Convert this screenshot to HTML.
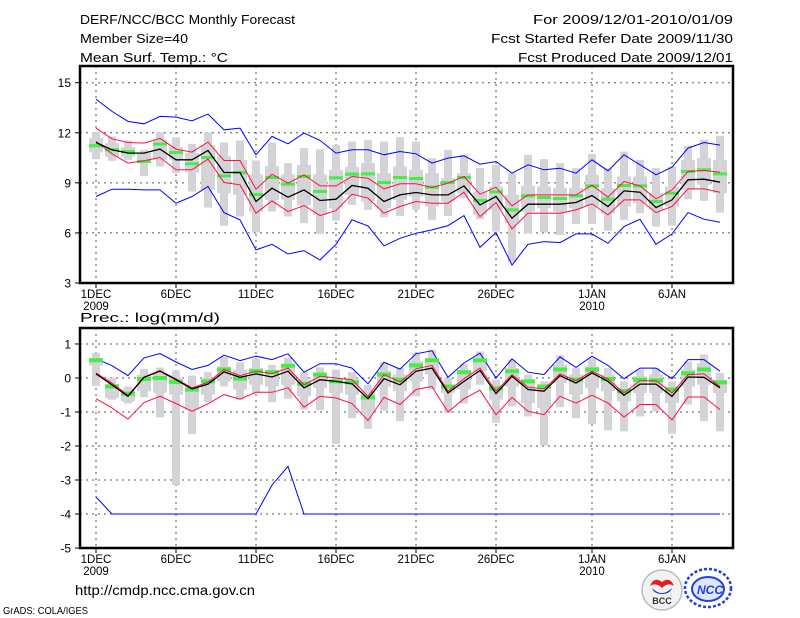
<!DOCTYPE html>
<html><head><meta charset="utf-8"><style>
html,body{margin:0;padding:0;background:#fff;}
svg{display:block;font-family:"Liberation Sans",sans-serif;}
</style></head><body>
<svg id="c" width="800" height="618" viewBox="0 0 800 618">
<g font-size="13" fill="#000">
<text x="80" y="24" textLength="215" lengthAdjust="spacingAndGlyphs">DERF/NCC/BCC Monthly Forecast</text>
<text x="80" y="43" textLength="108" lengthAdjust="spacingAndGlyphs">Member Size=40</text>
<text x="80" y="62" textLength="148" lengthAdjust="spacingAndGlyphs">Mean Surf. Temp.: °C</text>
<text x="733" y="24" text-anchor="end" textLength="200" lengthAdjust="spacingAndGlyphs">For 2009/12/01-2010/01/09</text>
<text x="733" y="43" text-anchor="end" textLength="242" lengthAdjust="spacingAndGlyphs">Fcst Started Refer Date 2009/11/30</text>
<text x="733" y="62" text-anchor="end" textLength="215" lengthAdjust="spacingAndGlyphs">Fcst Produced Date 2009/12/01</text>
<text x="80" y="322" font-size="12.5" textLength="140" lengthAdjust="spacingAndGlyphs">Prec.: log(mm/d)</text>
</g>
<g id="top"></g>
<g id="bot"></g>
<text x="75" y="595" font-size="14" textLength="180" lengthAdjust="spacingAndGlyphs">http://cmdp.ncc.cma.gov.cn</text>
<text x="3" y="614" font-size="10" textLength="85" lengthAdjust="spacingAndGlyphs">GrADS: COLA/IGES</text>
<g>
<circle cx="662" cy="590" r="20" fill="#f2f2f2" stroke="#bbb" stroke-width="1.5"/>
<path d="M650 586 q4 -10 12 -4 q8 -6 12 4 q-6 -4 -12 2 q-6 -6 -12 -2z" fill="#e02020"/>
<path d="M652 588 q10 10 20 0 q-2 6 -10 6 q-8 0 -10 -6z" fill="#2040c0"/>
<text x="662" y="604" font-size="9" font-weight="bold" text-anchor="middle" fill="#333">BCC</text>
</g>
<g>
<ellipse cx="708" cy="588" rx="23" ry="19" fill="none" stroke="#2040e0" stroke-width="2.5" stroke-dasharray="3 2"/>
<ellipse cx="708" cy="589" rx="16" ry="12" fill="#dfe6ff" stroke="#2040e0" stroke-width="2"/>
<text x="710" y="594" font-size="12" font-weight="bold" font-style="italic" text-anchor="middle" fill="#2040e0">NCC</text>
</g>
</svg>
<script>
// ---- Temperature data (40 days, Dec 1 - Jan 9) ----
const days = Array.from({length:40},(_,i)=>i);
const tMean = [11.42,10.98,10.78,10.78,11.02,10.38,10.38,10.94,9.62,9.62,7.88,8.68,8.14,8.58,7.94,8.02,8.84,8.68,7.88,8.28,8.42,8.28,8.28,8.82,7.68,8.18,6.88,7.72,7.72,7.72,7.82,8.24,7.58,8.52,8.44,7.52,7.98,9.18,9.22,9.04];
const tRedHi = [12.28,11.64,11.42,11.38,11.66,11.02,10.84,11.44,10.34,10.34,8.62,9.52,8.98,9.48,8.82,8.82,9.38,9.28,8.64,8.94,8.94,8.72,8.98,9.38,8.32,8.74,7.62,8.28,8.28,8.28,8.28,8.86,8.14,9.08,8.82,8.04,8.58,9.68,9.74,9.64];
const tRedLo = [11.48,10.74,10.18,10.32,10.52,9.78,9.78,10.42,9.02,8.88,7.18,7.92,7.28,7.64,7.04,7.34,8.32,8.08,7.18,7.58,7.88,7.78,7.78,8.44,6.98,7.82,6.24,7.18,7.18,7.18,7.38,7.74,7.08,7.98,7.98,7.22,7.58,8.64,8.64,8.44];
const tBlueHi = [14.02,13.28,12.68,12.54,12.98,12.94,12.72,13.12,12.18,12.28,10.68,11.78,11.34,11.98,11.54,10.78,10.98,10.98,10.68,10.88,10.74,10.18,10.48,10.62,10.12,10.28,9.58,10.08,9.78,9.88,9.58,10.38,9.72,10.68,10.08,9.48,9.94,11.08,11.42,11.26];
const tBlueLo = [8.18,8.62,8.62,8.58,8.58,7.78,8.18,8.78,7.22,6.78,4.98,5.32,4.74,4.94,4.38,5.32,6.78,6.42,5.22,5.68,5.98,6.18,6.44,7.04,5.14,6.02,4.08,5.32,5.48,5.42,5.94,5.94,5.38,6.38,6.82,5.32,5.94,7.22,6.82,6.64];
const tObs = [11.22,10.98,10.88,10.28,11.32,10.82,10.14,10.52,9.42,9.62,8.3,9.32,8.92,9.38,8.48,9.3,9.52,9.54,9.02,9.32,9.26,8.74,9.02,9.32,7.94,8.46,7.38,8.22,8.12,8.06,8.22,8.82,8.02,8.84,8.82,7.88,8.38,9.68,9.78,9.54];
const tOutHi = [12.02,11.78,11.54,10.98,12.02,11.72,11.34,12.02,11.42,11.54,10.34,11.42,10.18,11.08,11.02,11.28,11.48,11.58,11.48,11.74,11.48,10.48,10.98,10.68,9.88,10.08,9.58,10.68,10.42,10.18,9.88,10.74,9.88,10.88,10.38,9.88,9.98,11.22,11.58,11.82];
const tOutLo = [10.42,10.32,10.38,9.42,9.98,9.58,8.48,7.52,6.42,6.98,6.02,7.28,6.98,6.58,5.94,6.74,7.68,7.38,6.94,7.02,7.38,6.78,7.02,8.08,6.82,6.08,4.28,5.98,6.02,5.88,6.54,6.54,6.14,6.78,7.18,6.38,6.44,8.02,7.92,7.22];
const tInHi = [11.68,11.38,11.14,10.78,11.58,11.14,10.78,11.28,10.62,10.38,9.5,10.0,9.5,10.08,9.5,9.78,9.94,10.18,9.58,9.98,9.78,9.58,9.28,9.58,8.48,8.78,8.28,8.82,8.78,8.68,8.68,9.48,8.68,9.38,9.38,8.38,8.78,10.38,10.48,10.38];
const tInLo = [10.82,10.58,10.58,10.18,10.38,10.38,9.62,8.58,8.38,8.28,7.28,7.98,7.98,7.68,7.08,7.48,8.28,7.88,7.48,7.98,8.18,7.58,7.88,8.38,7.08,7.38,6.58,7.28,7.48,7.28,7.48,7.58,7.18,7.58,7.78,7.38,7.58,8.58,8.88,8.38];
const tTicks = [3,6,9,12,15];
// ---- Precipitation data (log mm/d) ----
const pMean = [0.12,-0.2,-0.54,0.02,0.2,-0.05,-0.32,-0.18,0.18,0.02,0.12,0.03,0.2,-0.29,-0.05,-0.1,-0.17,-0.61,-0.02,-0.2,0.2,0.29,-0.44,-0.1,0.22,-0.46,0.05,-0.34,-0.39,0.07,-0.15,0.15,-0.1,-0.51,-0.18,-0.18,-0.54,0.03,0.02,-0.29];
const pRedHi = [0.15,-0.15,-0.51,0.03,0.22,-0.03,-0.29,-0.13,0.25,0.07,0.2,0.13,0.29,-0.2,0.05,0,-0.05,-0.54,0.1,-0.12,0.27,0.37,-0.39,-0.02,0.29,-0.39,0.1,-0.27,-0.32,0.12,-0.08,0.2,-0.03,-0.44,-0.08,-0.08,-0.44,0.1,0.12,-0.25];
const pRedLo = [-0.61,-0.88,-1.21,-0.72,-0.54,-0.75,-0.98,-0.76,-0.49,-0.62,-0.42,-0.42,-0.29,-0.86,-0.54,-0.59,-0.75,-1.25,-0.57,-0.78,-0.34,-0.25,-1.0,-0.61,-0.36,-1.08,-0.57,-0.98,-1.08,-0.54,-0.74,-0.51,-0.74,-1.15,-0.78,-0.78,-1.23,-0.56,-0.56,-0.93];
const pBlueHi = [0.57,0.36,0.07,0.59,0.72,0.47,0.25,0.37,0.67,0.51,0.64,0.54,0.71,0.17,0.42,0.42,0.29,-0.17,0.46,0.26,0.71,0.8,0.02,0.44,0.73,0,0.56,0.17,0.1,0.62,0.31,0.64,0.37,-0.02,0.29,0.29,-0.02,0.54,0.54,0.2];
const pBlueLo = [-3.5,-4,-4,-4,-4,-4,-4,-4,-4,-4,-4,-3.15,-2.6,-4,-4,-4,-4,-4,-4,-4,-4,-4,-4,-4,-4,-4,-4,-4,-4,-4,-4,-4,-4,-4,-4,-4,-4,-4,-4,-4];
const pObs = [0.52,-0.25,-0.46,-0.03,0,-0.12,-0.34,-0.1,0.25,-0.02,0.2,0.17,0.36,-0.17,0.1,-0.1,-0.13,-0.57,0.1,-0.05,0.37,0.52,-0.25,0.17,0.52,-0.31,0.2,-0.1,-0.25,0.25,-0.05,0.25,-0.03,-0.39,-0.05,-0.07,-0.34,0.14,0.25,-0.13];
const pOutHi = [0.74,0,-0.25,0.27,0.31,0.22,0.07,0.17,0.62,0.46,0.56,0.39,0.6,0.17,0.31,0.25,0.17,-0.2,0.46,0.29,0.74,0.83,0,0.41,0.78,-0.05,0.54,0.1,-0.1,0.67,0.29,0.59,0.29,-0.1,0.25,0.29,-0.1,0.49,0.69,0.15];
const pOutLo = [-0.23,-0.64,-0.75,-0.57,-1.16,-3.15,-1.65,-0.71,-0.25,-0.64,-0.44,-0.71,-0.61,-0.93,-0.95,-1.94,-1.18,-1.5,-0.96,-1.27,-0.54,-0.34,-1.03,-0.75,-0.2,-1.32,-0.83,-1.13,-1.99,-0.86,-1.18,-1.35,-1.54,-1.57,-1.13,-0.98,-1.64,-0.78,-1.27,-1.57];
const pInHi = [0.59,-0.18,-0.34,0.1,0.15,0.02,-0.25,0,0.34,0.25,0.29,0.2,0.41,-0.05,0.12,-0.05,0,-0.39,0.2,0.1,0.49,0.59,-0.2,0.2,0.59,-0.25,0.29,-0.05,-0.25,0.39,0.1,0.34,0.1,-0.29,0.05,0.1,-0.25,0.25,0.44,-0.05];
const pInLo = [0.37,-0.59,-0.69,-0.39,-0.44,-0.49,-0.93,-0.49,-0.1,-0.34,-0.2,-0.25,-0.2,-0.54,-0.29,-0.44,-0.49,-1.03,-0.25,-0.39,-0.1,0.1,-0.44,-0.34,0.2,-0.64,-0.25,-0.74,-0.88,-0.15,-0.49,-0.29,-0.39,-0.69,-0.44,-0.44,-0.74,-0.25,-0.2,-0.44];
const pTicks = [1,0,-1,-2,-3,-4,-5];
const dateTickDays = [0,5,10,15,20,25,31,36];
const dateTickLabels = ['1DEC','6DEC','11DEC','16DEC','21DEC','26DEC','1JAN','6JAN'];

const NS='http://www.w3.org/2000/svg';
const L=80,R=733;
const xOf=d=>96+16*d;
function mk(parent,tag,attrs){const e=document.createElementNS(NS,tag);for(const k in attrs)e.setAttribute(k,attrs[k]);parent.appendChild(e);return e;}

function panel(g,top,bot,vmin,vmax,ticks,s,name){
  const yOf=v=>bot-(v-vmin)/(vmax-vmin)*(bot-top);
  ticks.forEach(t=>{const y=yOf(t);
    if(y>top+1&&y<bot-1){const l=mk(g,'line',{x1:L,x2:R,y1:y,y2:y,stroke:'#555','stroke-dasharray':'2 4','stroke-width':1});
    
    }
    mk(g,'line',{x1:L-5,x2:L,y1:y,y2:y,stroke:'#000'});
    const tx=mk(g,'text',{x:L-9,y:y+4.5,'font-size':12,'text-anchor':'end'});tx.textContent=t;
    
    
  });
  dateTickDays.forEach((d,i)=>{const x=xOf(d);
    const l=mk(g,'line',{x1:x,x2:x,y1:top,y2:bot,stroke:'#555','stroke-dasharray':'2 4'});
    
    
    mk(g,'line',{x1:x,x2:x,y1:bot,y2:bot+5,stroke:'#000'});
    const tx=mk(g,'text',{x:x,y:bot+15,'font-size':11.5,'text-anchor':'middle'});tx.textContent=dateTickLabels[i];
    
    
  });
  [['2009',0],['2010',31]].forEach(([t,d])=>{const tx=mk(g,'text',{x:xOf(d),y:bot+27,'font-size':11.5,'text-anchor':'middle'});tx.textContent=t;
    
    });
  days.forEach(d=>{const x=xOf(d);
    const o=mk(g,'rect',{x:x-4,width:8,y:yOf(s.oh[d]),height:Math.max(1,yOf(s.ol[d])-yOf(s.oh[d])),fill:'#d4d4d8'});
    
    
    const b=mk(g,'rect',{x:x-7,width:14,y:yOf(s.ih[d]),height:Math.max(1,yOf(s.il[d])-yOf(s.ih[d])),fill:'#d4d4d8'});
    
    
  });
  const line=(arr,c,w,n)=>{const p=mk(g,'polyline',{points:days.map(d=>xOf(d)+','+yOf(arr[d]).toFixed(1)).join(' '),fill:'none',stroke:c,'stroke-width':w});
    
    };
  line(s.bh,'#0000ff',1,name+'-max-line');
  line(s.bl,'#0000ff',1,name+'-min-line');
  days.forEach(d=>{const r=mk(g,'rect',{x:xOf(d)-7,width:14,y:yOf(s.obs[d])-s.gh/2,height:s.gh,fill:'#44ee44'});
    
    });
  line(s.rh,'#ff1040',1,name+'-upper-spread-line');
  line(s.rl,'#ff1040',1,name+'-lower-spread-line');
  line(s.m,'#000',1.3,name+'-ensemble-mean-line');
  const f=mk(g,'rect',{x:L,y:top,width:R-L,height:bot-top,fill:'none',stroke:'#000','stroke-width':2.5});
  
  
}
const gt=document.getElementById('top');


panel(gt,66,283,3,16,tTicks,{oh:tOutHi,ol:tOutLo,ih:tInHi,il:tInLo,bh:tBlueHi,bl:tBlueLo,rh:tRedHi,rl:tRedLo,m:tMean,obs:tObs,gh:3},'temp');
const gb=document.getElementById('bot');


panel(gb,328,548,-5,1.47,pTicks,{oh:pOutHi,ol:pOutLo,ih:pInHi,il:pInLo,bh:pBlueHi,bl:pBlueLo,rh:pRedHi,rl:pRedLo,m:pMean,obs:pObs,gh:4},'precip');
</script>
</body></html>
